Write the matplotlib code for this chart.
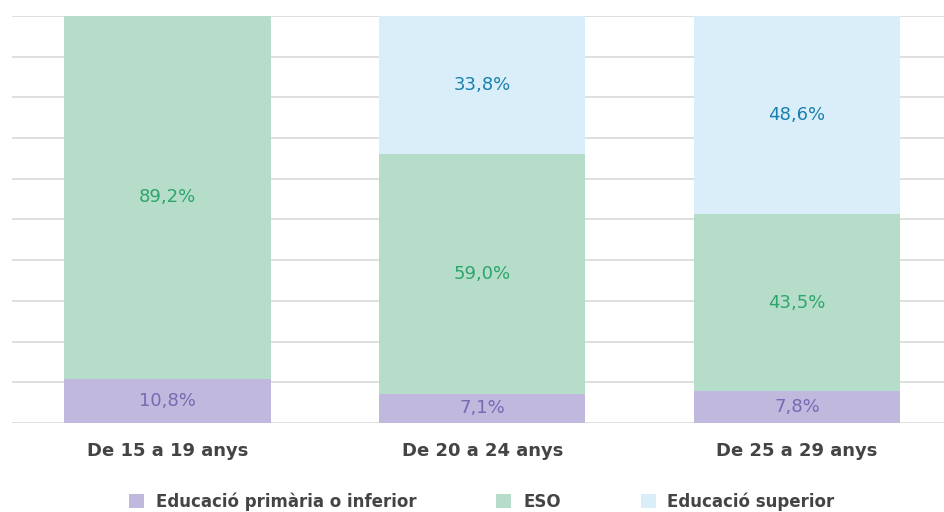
import numpy as np
import matplotlib.pyplot as plt

# dades
grups = ['De 15 a 19 anys', 'De 20 a 24 anys', 'De 25 a 29 anys']
primaria = [10.8, 7.1, 7.8]
eso = [89.2, 59.0, 43.5]
superior = [0.0, 33.8, 48.6]
series = ['Educació primària o inferior', 'ESO', 'Educació superior']

colors = ['#c1b8de', '#b5ddc9', '#d9eef9']
text_colors = ['#7a68b3', '#2ea56c', '#1a80ad']

plt.rcParams['font.family'] = ['DejaVu Sans']

fig = plt.figure(figsize=(9.45, 5.12), dpi=100)
ax = fig.add_axes([0.013, 0.174, 0.987, 0.795])

x = np.arange(len(grups))
width = 0.655
bottom = np.zeros(len(grups))
for vals, col, tcol, nom in zip([primaria, eso, superior], colors, text_colors, series):
    vals = np.array(vals)
    ax.bar(x, vals, width, bottom=bottom, color=col, label=nom, zorder=2)
    for xi, v, b in zip(x, vals, bottom):
        if v > 0:
            ax.text(xi, b + v / 2, f'{v:.1f}%'.replace('.', ','), ha='center', va='center',
                    color=tcol, fontsize=13, zorder=3)
    bottom += vals

ax.set_ylim(0, 100)
ax.set_xlim(-0.493, 2.47)
ax.set_yticks(np.arange(0, 101, 10))
ax.yaxis.grid(True, color='#dcdcdc', linewidth=1.3, zorder=0)
ax.set_axisbelow(True)
ax.tick_params(axis='y', left=False, labelleft=False)
ax.tick_params(axis='x', bottom=False, pad=10)
ax.set_xticks(x)
ax.set_xticklabels(grups, fontsize=13, fontweight='semibold', color='#444444')
for s in ax.spines.values():
    s.set_visible(False)

fig.legend(*ax.get_legend_handles_labels(), loc='center', bbox_to_anchor=(0.51, 0.02),
           ncol=3, frameon=False, handlelength=0.9, handleheight=0.9, columnspacing=4.8,
           handletextpad=0.7, labelcolor='#444444', prop={'weight': 'semibold', 'size': 12})

fig.savefig('out.png', dpi=100)
